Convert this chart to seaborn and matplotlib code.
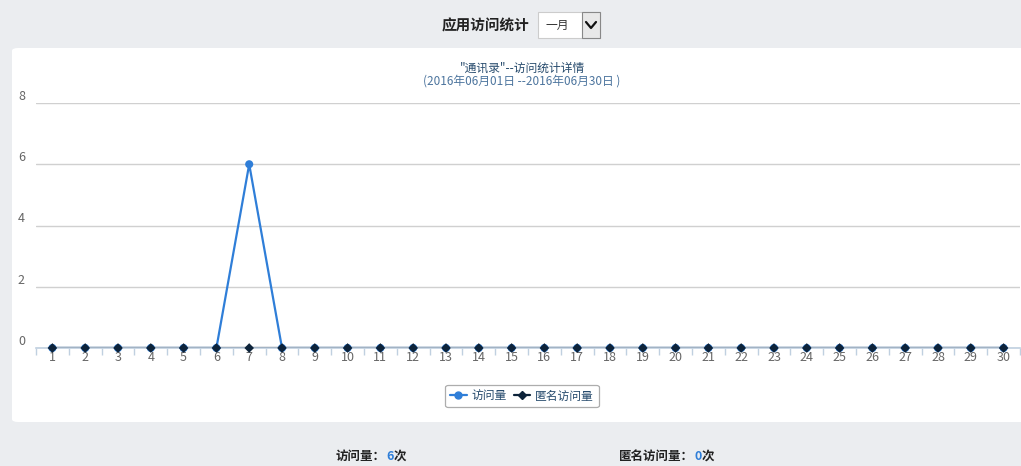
import matplotlib
matplotlib.use("Agg")
import matplotlib.pyplot as plt
import seaborn as sns
import pandas as pd
from matplotlib.patches import FancyBboxPatch, Rectangle
from matplotlib.lines import Line2D

# data
days = list(range(1, 31))
visits = [0, 0, 0, 0, 0, 0, 6, 0, 0, 0, 0, 0, 0, 0, 0,
          0, 0, 0, 0, 0, 0, 0, 0, 0, 0, 0, 0, 0, 0, 0]
anon_visits = [0] * 30
series_names = ['访问量', '匿名访问量']
y_ticks = [0, 2, 4, 6, 8]
total_visits = 6
total_anon = 0

BLUE = '#2f7ed8'
NAVY = '#0d233a'
BG = '#ebedf0'

sns.set_theme(style='white')
plt.rcParams['font.family'] = ['Noto Sans CJK SC', 'DejaVu Sans']

df = pd.DataFrame({
    'day': days * 2,
    'value': visits + anon_visits,
    'series': [series_names[0]] * 30 + [series_names[1]] * 30,
})

W, H = 1021, 466
fig = plt.figure(figsize=(W / 100, H / 100), dpi=100)
fig.patch.set_facecolor(BG)


def fx(px):
    return px / W


def fy(py):
    return 1 - py / H


# white panel
panel = FancyBboxPatch((fx(12), fy(422)), fx(1030 - 12), fy(48) - fy(422),
                       boxstyle='round,pad=0,rounding_size=0.006',
                       transform=fig.transFigure, facecolor='white', edgecolor='none', zorder=-1)
fig.patches.append(panel)

# header
fig.text(fx(485), fy(25), '应用访问统计', ha='center', va='center', fontsize=10.5,
         fontweight='bold', color='#222222')
fig.patches.append(Rectangle((fx(538), fy(38)), fx(62), fy(12) - fy(38), transform=fig.transFigure,
                             facecolor='white', edgecolor='#cccccc', lw=0.8))
fig.patches.append(Rectangle((fx(582), fy(38)), fx(18), fy(12) - fy(38), transform=fig.transFigure,
                             facecolor='#e8e8e8', edgecolor='#888888', lw=0.8))
fig.text(fx(557), fy(25), '一月', ha='center', va='center', fontsize=8.5, color='#333333')
fig.lines.append(Line2D([fx(586), fx(591), fx(596)], [fy(22), fy(28), fy(22)],
                        transform=fig.transFigure, color='#111111', lw=1.6))

# titles
fig.text(fx(522), fy(68), '"通讯录"--访问统计详情', ha='center', va='center', fontsize=8.5,
         color='#274b6d')
fig.text(fx(522), fy(81), '(2016年06月01日 --2016年06月30日 )', ha='center', va='center',
         fontsize=8.5, color='#4d759e')

# axes
ax = fig.add_axes([fx(36), fy(348), fx(1020 - 36), fy(103) - fy(348)])
ax.set_facecolor('none')

palette = {series_names[0]: BLUE, series_names[1]: NAVY}
sns.lineplot(data=df, x='day', y='value', hue='series', palette=palette, linewidth=1.6,
             legend=False, ax=ax, zorder=3)
sns.scatterplot(data=df[df['series'] == series_names[0]], x='day', y='value', color=BLUE,
                marker='o', s=34, edgecolor='none', legend=False, ax=ax, zorder=4, clip_on=False)
sns.scatterplot(data=df[df['series'] == series_names[1]], x='day', y='value', color=NAVY,
                marker='D', s=24, edgecolor='none', legend=False, ax=ax, zorder=5, clip_on=False)

ax.set_xlim(0.5, 30.5)
ax.set_ylim(0, 8)
ax.set_xlabel('')
ax.set_ylabel('')

for s in ['top', 'right', 'left']:
    ax.spines[s].set_visible(False)
ax.spines['bottom'].set_color('#c0d0e0')
ax.spines['bottom'].set_linewidth(1.2)
ax.spines['bottom'].set_zorder(3.5)

ax.set_yticks(y_ticks)
ax.set_yticklabels([str(v) for v in y_ticks])
ax.yaxis.grid(True, color='#d0d0d0', linewidth=1)
ax.tick_params(axis='y', length=0, pad=8, labelsize=9, labelcolor='#666666')
for lbl in ax.get_yticklabels():
    lbl.set_verticalalignment('bottom')

ax.set_xticks(days)
ax.set_xticklabels([str(d) for d in days])
ax.set_xticks([d + 0.5 for d in range(0, 31)], minor=True)
ax.tick_params(axis='x', which='major', length=0, pad=2, labelsize=9, labelcolor='#666666')
ax.tick_params(axis='x', which='minor', length=5, width=1, color='#c0d0e0', bottom=True)

# legend
handles = [Line2D([], [], color=BLUE, marker='o', markersize=5, lw=1.6),
           Line2D([], [], color=NAVY, marker='D', markersize=4, lw=1.6)]
leg = fig.legend(handles, series_names, loc='center', bbox_to_anchor=(fx(522), fy(396)),
                 ncol=2, fontsize=8.5, frameon=True, fancybox=True, handlelength=1.4,
                 handletextpad=0.4, columnspacing=0.6, borderpad=0.4)
leg.get_frame().set_edgecolor('#999999')
leg.get_frame().set_linewidth(0.9)
for t in leg.get_texts():
    t.set_color('#274b6d')

# bottom totals
fig.canvas.draw()
renderer = fig.canvas.get_renderer()


def multi_text(x_px, y_px, parts):
    x = fx(x_px)
    for txt, col in parts:
        t = fig.text(x, fy(y_px), txt, ha='left', va='center', fontsize=9, fontweight='bold',
                     color=col)
        bb = t.get_window_extent(renderer)
        x += bb.width / W


multi_text(336, 456, [('访问量：', '#222222'), (str(total_visits), BLUE), ('次', '#222222')])
multi_text(619, 456, [('匿名访问量：', '#222222'), (str(total_anon), BLUE), ('次', '#222222')])

fig.savefig('out.png', dpi=100, facecolor=fig.get_facecolor())
